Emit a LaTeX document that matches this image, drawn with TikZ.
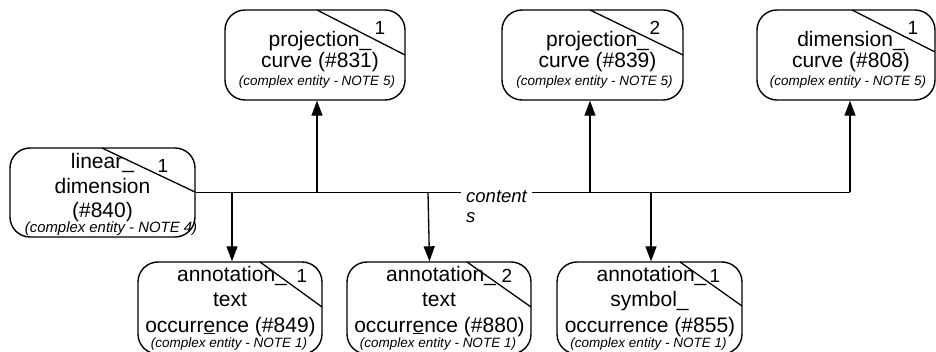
\documentclass[tikz,border=0pt]{standalone}
\usepackage{fontspec}
\setmainfont{Liberation Sans}
\usetikzlibrary{arrows.meta}
\begin{document}
\begin{tikzpicture}[x=1pt,y=-1pt,
  ebox/.style={draw, line width=1.4pt, rounded corners=20pt, inner sep=0pt},
  diag/.style={line width=1.3pt},
  conn/.style={line width=1.3pt},
  arr/.style={conn, -{Triangle[length=15pt,width=11pt]}},
  lbl/.style={font=\fontsize{21}{23}\selectfont, inner sep=0pt, anchor=base},
  ital/.style={font=\fontsize{13.5}{15}\selectfont\itshape, inner sep=0pt, anchor=base},
  numb/.style={font=\fontsize{19}{21}\selectfont, inner sep=0pt, anchor=base},
  rolefont/.style={font=\fontsize{18.5}{20}\selectfont\itshape, inner xsep=5pt, inner ysep=1pt, anchor=base west}]
\useasboundingbox (0,0) rectangle (936,352);

% ---------- boxes ----------
\node[ebox, minimum width=185pt, minimum height=89pt] (ld)   at (102.5,192.5) {};
\node[ebox, minimum width=180pt, minimum height=90pt] (p831) at (315,55) {};
\node[ebox, minimum width=181pt, minimum height=90pt] (p839) at (592.5,55) {};
\node[ebox, minimum width=178pt, minimum height=90pt] (d808) at (846,55) {};
\node[ebox, minimum width=184pt, minimum height=92pt] (a849) at (230,308) {};
\node[ebox, minimum width=184pt, minimum height=92pt] (a880) at (439,308) {};
\node[ebox, minimum width=185pt, minimum height=92pt] (a855) at (649.5,308) {};

% ---------- corner diagonals ----------
\draw[diag] (102,148) -- (195,192);
\draw[diag] (317,10) -- (405,55);
\draw[diag] (590,10) -- (683,55);
\draw[diag] (852,10) -- (935,52);
\draw[diag] (260,262) -- (322,307);
\draw[diag] (467,262) -- (531,307);
\draw[diag] (680,262) -- (742,306);

% ---------- corner numbers ----------
\node[numb] (ldn)   at (163,173) {1};
\node[numb] (p831n) at (380,35) {1};
\node[numb] (p839n) at (655,35) {2};
\node[numb] (d808n) at (913,35) {1};
\node[numb] (a849n) at (302,283) {1};
\node[numb] (a880n) at (507,283) {2};
\node[numb] (a855n) at (715,283) {1};

% ---------- texts ----------
\node[lbl] (ld1) at (102.5,169) {linear\_};
\node[lbl] (ld2) at (102.5,194) {dimension};
\node[lbl] (ld3) at (102.5,218) {(\#840)};
\node[ital, font=\fontsize{14.9}{16}\selectfont\itshape] (ld4) at (111,233) {(complex entity - NOTE 4)};

\node[lbl] (p831a) at (320,47) {projection\_};
\node[lbl] (p831b) at (320,68) {curve (\#831)};
\node[ital] (p831c) at (317,86) {(complex entity - NOTE 5)};

\node[lbl] (p839a) at (597.5,47) {projection\_};
\node[lbl] (p839b) at (597.5,68) {curve (\#839)};
\node[ital] (p839c) at (594.5,86) {(complex entity - NOTE 5)};

\node[lbl] (d808a) at (851,47) {dimension\_};
\node[lbl] (d808b) at (851,68) {curve (\#808)};
\node[ital] (d808c) at (848,86) {(complex entity - NOTE 5)};

\node[lbl] (a849a) at (232,282) {annotation\_};
\node[lbl] (a849b) at (230,307) {text};
\node[lbl] (a849c) at (230.5,332) {occurr\underline{e}nce (\#849)};
\node[ital] (a849d) at (229,347) {(complex entity - NOTE 1)};

\node[lbl] (a880a) at (441,282) {annotation\_};
\node[lbl] (a880b) at (439,307) {text};
\node[lbl] (a880c) at (439.5,332) {occurr\underline{e}nce (\#880)};
\node[ital] (a880d) at (438,347) {(complex entity - NOTE 1)};

\node[lbl] (a855a) at (651.5,282) {annotation\_};
\node[lbl] (a855b) at (649.5,307) {symbol\_};
\node[lbl] (a855c) at (650,332) {occurrence (\#855)};
\node[ital] (a855d) at (648.5,347) {(complex entity - NOTE 1)};

% ---------- connectors ----------
\coordinate (jend) at (850,192.5);
\coordinate (ju1) at (317,192.5);
\coordinate (ju2) at (590,192.5);
\coordinate (jd1) at (232,192.5);
\coordinate (jd2) at (428,192.5);
\coordinate (jd3) at (651,192.5);

\draw[conn] (ld.east) -- (jend);
\draw[arr] (ju1) -- (ju1 |- p831.south);
\draw[arr] (ju2) -- (ju2 |- p839.south);
\draw[arr] (jend) -- (jend |- d808.south);
\draw[arr] (jd1) -- (jd1 |- a849.north);
\draw[arr] (jd2) -- ([xshift=-9.5pt]a880.north);
\draw[arr] (jd3) -- (jd3 |- a855.north);

\node[rolefont, fill=white] (role1) at (461,203) {content};
\node[rolefont] (role2) at (461,223) {s};
\end{tikzpicture}
\end{document}
